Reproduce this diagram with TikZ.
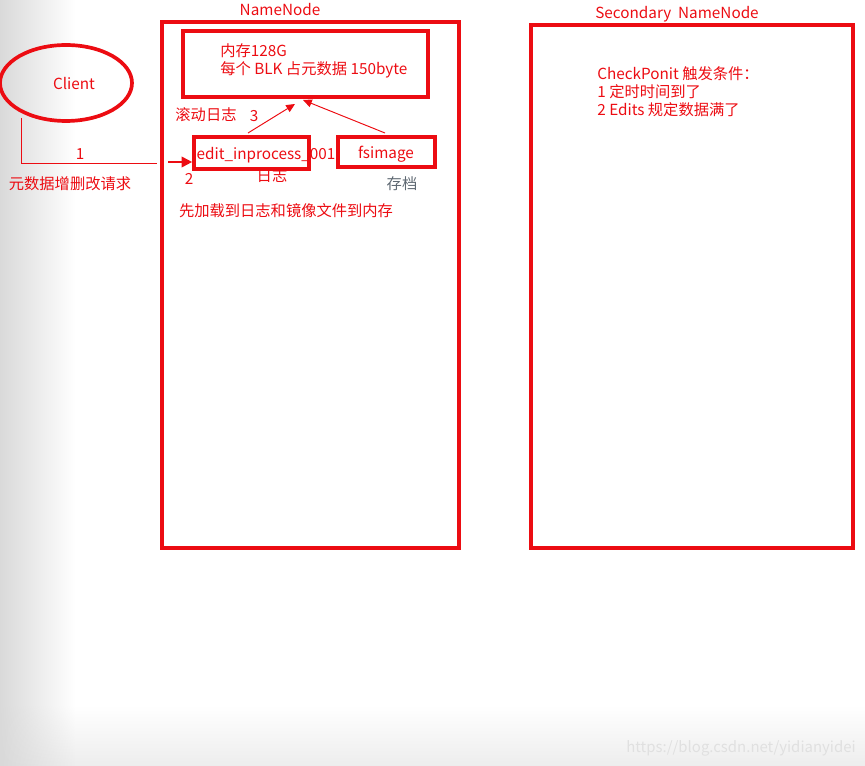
\documentclass[tikz,border=0pt]{standalone}
\usepackage{fontspec}
\setmainfont{Noto Sans CJK SC}
\usetikzlibrary{arrows.meta,shapes.geometric,fadings}
\definecolor{rd}{RGB}{236,12,18}
\definecolor{gtxt}{RGB}{95,105,115}
\tikzset{
  thickbox/.style={draw=rd,line width=2.1pt,rectangle,inner sep=0pt},
  lbl/.style={text=rd,font=\fontsize{8.7pt}{10.2pt}\selectfont,inner sep=0pt},
  thinarrow/.style={draw=rd,line width=0.55pt,-{Triangle[length=5pt,width=4.5pt]}},
}
\begin{document}
\begin{tikzpicture}[x=0.02cm,y=-0.02cm]
\useasboundingbox (0,0) rectangle (865,766);
% background shading
\fill[black!7,path fading=north] (0,705) rectangle (865,766);
\fill[black!15,path fading=east] (0,0) rectangle (75,766);

% Client
\node[ellipse,draw=rd,line width=2.1pt,minimum width=2.64cm,minimum height=1.52cm] (client) at (66,83) {};
\node[lbl] (clientt) at (74,84) {Client};

% NameNode
\node[thickbox,minimum width=5.94cm,minimum height=10.52cm] (nn) at (310.5,285) {};
\node[lbl,anchor=base] (nnt) at (280,16) {NameNode};
\node[thickbox,minimum width=4.9cm,minimum height=1.32cm] (mem) at (305.5,64) {};
\node[lbl,anchor=west,align=left] (memt) at (220,61) {内存128G\\每个 BLK 占元数据 150byte};
\node[lbl] (roll) at (206,115) {滚动日志};
\node[lbl] (n3) at (254,116) {3};
\node[thickbox,minimum width=2.3cm,minimum height=0.64cm] (edit) at (251.5,153) {};
\node[lbl] (editt) at (266,155) {edit\_inprocess\_001};
\node[lbl] (logt) at (272,176) {日志};
\node[thickbox,minimum width=1.94cm,minimum height=0.6cm] (fs) at (386.5,152) {};
\node[lbl] (fst) at (386,154) {fsimage};
\node[lbl,text=gtxt] (arch) at (402,184) {存档};
\node[lbl] (load) at (286,211) {先加载到日志和镜像文件到内存};

\coordinate (a3s) at (248,133);
\coordinate (a3e) at (295,104);
\coordinate (afs) at (385,133);
\coordinate (afe) at (303,100);
\draw[thinarrow] (a3s) -- (a3e);
\draw[thinarrow] (afs) -- (afe);

% request line
\coordinate (r1) at (21,118);
\coordinate (r2) at (21,163);
\coordinate (r3) at (157,163);
\draw[rd,line width=0.55pt] (r1) -- (r2) -- (r3);
\node[lbl] (n1) at (80,154) {1};
\node[lbl] (req) at (70,184) {元数据增删改请求};
\coordinate (a2s) at (168,162);
\draw[rd,line width=1.1pt,-{Triangle[length=6pt,width=6pt]}] (a2s) -- (a2s -| edit.west);
\node[lbl] (n2) at (189,179) {2};

% Secondary NameNode
\node[thickbox,minimum width=6.44cm,minimum height=10.46cm] (snn) at (692,286.5) {};
\node[lbl,anchor=base] (snnt) at (677,19) {Secondary\ \ NameNode};
\node[lbl,anchor=west,align=left] (cond) at (597,92) {CheckPonit 触发条件：\\1 定时时间到了\\2 Edits 规定数据满了};

% watermark
\node[text=black!12,font=\fontsize{8.5pt}{10pt}\selectfont,anchor=east,inner sep=0pt] (wm) at (856,748) {https://blog.csdn.net/yidianyidei};
\end{tikzpicture}
\end{document}
